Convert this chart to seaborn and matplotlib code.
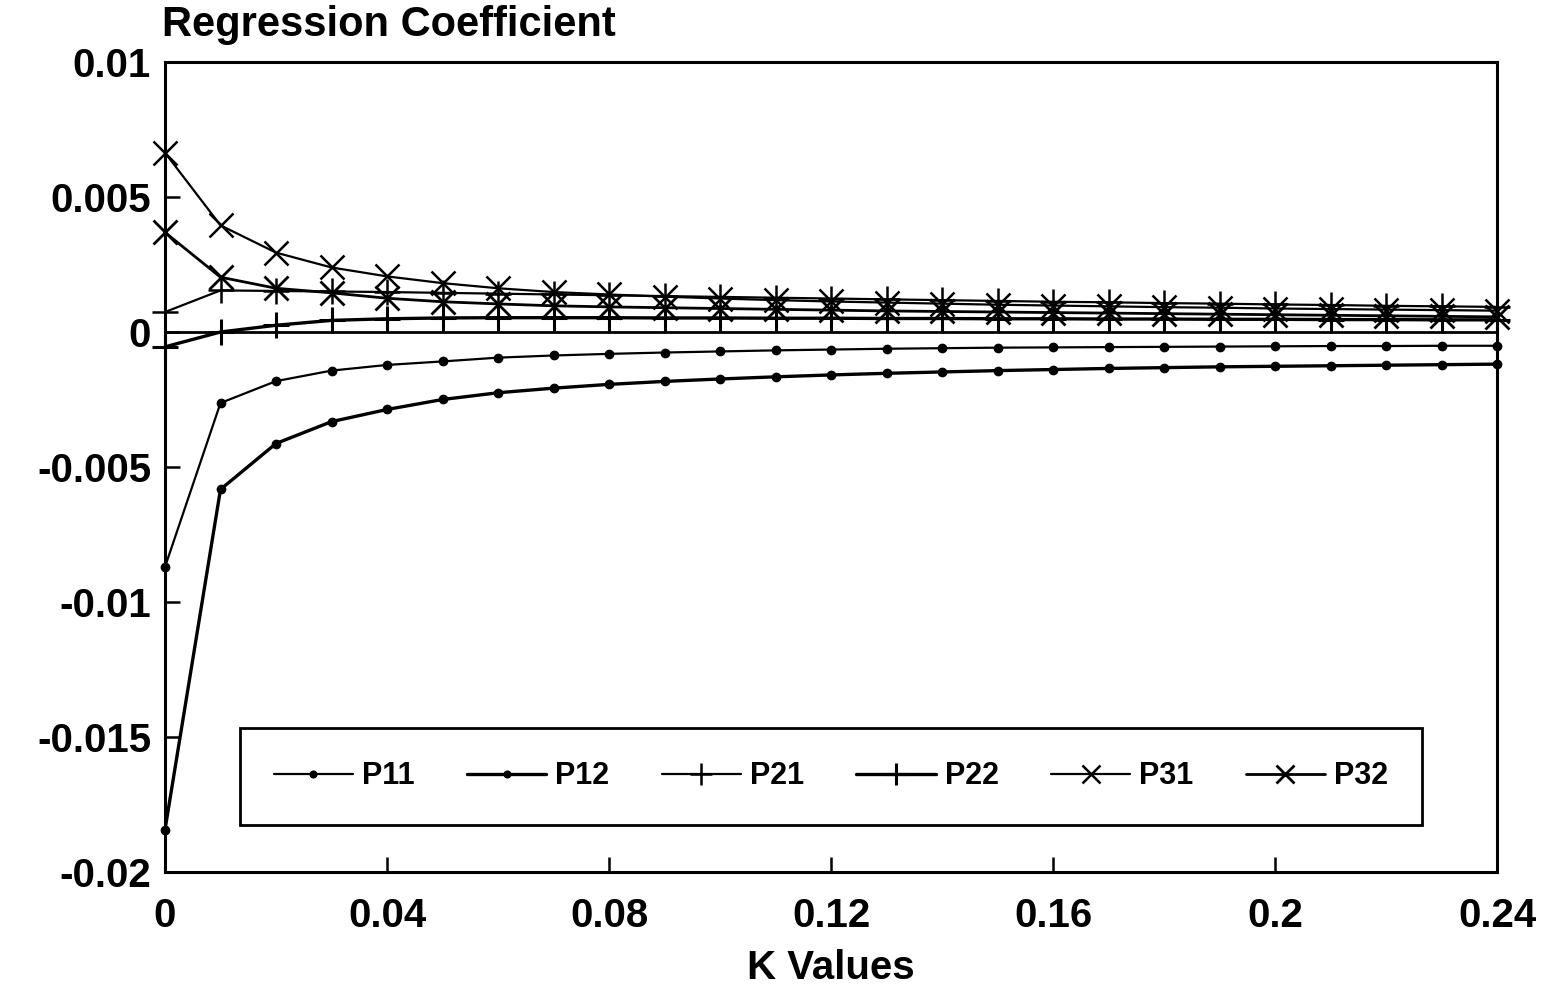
import matplotlib
matplotlib.use("Agg")
import matplotlib.pyplot as plt
import seaborn as sns
import pandas as pd

k_values = [0.00, 0.01, 0.02, 0.03, 0.04, 0.05, 0.06, 0.07, 0.08, 0.09, 0.10, 0.11, 0.12,
            0.13, 0.14, 0.15, 0.16, 0.17, 0.18, 0.19, 0.20, 0.21, 0.22, 0.23, 0.24]

p11 = [-0.0087, -0.00263, -0.00182, -0.00143, -0.00122, -0.00109, -0.00095, -0.00087, -0.00081,
       -0.00076, -0.00072, -0.00068, -0.00065, -0.00062, -0.00060, -0.00058, -0.00057, -0.00056,
       -0.00055, -0.00054, -0.00053, -0.00052, -0.00052, -0.00051, -0.00051]
p12 = [-0.01843, -0.00583, -0.00413, -0.00332, -0.00287, -0.00250, -0.00225, -0.00208, -0.00194,
       -0.00183, -0.00174, -0.00166, -0.00159, -0.00153, -0.00148, -0.00143, -0.00139, -0.00135,
       -0.00132, -0.00129, -0.00127, -0.00125, -0.00123, -0.00121, -0.00119]
p21 = [0.00074, 0.00154, 0.00152, 0.00150, 0.00148, 0.00145, 0.00142, 0.00139, 0.00136, 0.00133,
       0.00130, 0.00127, 0.00124, 0.00121, 0.00118, 0.00115, 0.00112, 0.00110, 0.00107, 0.00105,
       0.00102, 0.00100, 0.00097, 0.00095, 0.00093]
p22 = [-0.00055, 0.00000, 0.00025, 0.00043, 0.00049, 0.00052, 0.00053, 0.00053, 0.00053, 0.00052,
       0.00052, 0.00051, 0.00051, 0.00050, 0.00050, 0.00049, 0.00049, 0.00048, 0.00048, 0.00047,
       0.00047, 0.00046, 0.00046, 0.00045, 0.00045]
p31 = [0.00664, 0.00395, 0.00294, 0.00239, 0.00206, 0.00181, 0.00162, 0.00148, 0.00139, 0.00131,
       0.00124, 0.00118, 0.00113, 0.00109, 0.00105, 0.00101, 0.00098, 0.00095, 0.00092, 0.00090,
       0.00087, 0.00085, 0.00083, 0.00081, 0.00079]
p32 = [0.00369, 0.00203, 0.00162, 0.00145, 0.00125, 0.00112, 0.00104, 0.00097, 0.00093, 0.00090,
       0.00087, 0.00084, 0.00081, 0.00078, 0.00076, 0.00074, 0.00072, 0.00070, 0.00068, 0.00066,
       0.00064, 0.00062, 0.00060, 0.00058, 0.00056]

series_names = ["P11", "P12", "P21", "P22", "P31", "P32"]
series_values = [p11, p12, p21, p22, p31, p32]

x_ticks = [0, 0.04, 0.08, 0.12, 0.16, 0.20, 0.24]
x_tick_labels = ["0", "0.04", "0.08", "0.12", "0.16", "0.2", "0.24"]
y_ticks = [0.01, 0.005, 0, -0.005, -0.01, -0.015, -0.02]
y_tick_labels = ["0.01", "0.005", "0", "-0.005", "-0.01", "-0.015", "-0.02"]

sns.set_style("white")
plt.rcParams['font.family'] = ['Liberation Sans', 'DejaVu Sans']
plt.rcParams['font.weight'] = 'bold'
plt.rcParams['text.color'] = 'black'
plt.rcParams['xtick.color'] = 'black'
plt.rcParams['ytick.color'] = 'black'
plt.rcParams['axes.labelcolor'] = 'black'

styles = {
    "P11": dict(marker="o", markersize=6, linewidth=1.6),
    "P12": dict(marker="o", markersize=6, linewidth=2.4),
    "P21": dict(marker="+", markersize=19, linewidth=1.6, markeredgewidth=1.8),
    "P22": dict(marker="+", markersize=19, linewidth=2.4, markeredgewidth=2.2),
    "P31": dict(marker="x", markersize=17, linewidth=1.6, markeredgewidth=1.8),
    "P32": dict(marker="x", markersize=17, linewidth=2.0, markeredgewidth=2.0),
}

fig = plt.figure(figsize=(15.5, 10.01), dpi=100)
ax = fig.add_axes([165/1550, 1 - 872/1001, (1497-165)/1550, (872-62)/1001])

for name, vals in zip(series_names, series_values):
    df = pd.DataFrame({"k": k_values, "v": vals})
    st = styles[name]
    sns.lineplot(data=df, x="k", y="v", ax=ax, color="black", label=name,
                 marker=st["marker"], markersize=st["markersize"], linewidth=st["linewidth"],
                 markeredgewidth=st.get("markeredgewidth", 1.0), markeredgecolor="black",
                 markerfacecolor="black", estimator=None, clip_on=False)

ax.axhline(0, color="black", linewidth=2.0, zorder=1)

ax.set_xlim(0, 0.24)
ax.set_ylim(-0.02, 0.01)
ax.set_xticks(x_ticks)
ax.set_xticklabels(x_tick_labels, fontsize=29, fontweight='bold')
ax.set_yticks(y_ticks)
ax.set_yticklabels(y_tick_labels, fontsize=29, fontweight='bold')
ax.tick_params(axis='y', direction='in', length=11, width=1.8, pad=10, left=True, colors='black')
ax.tick_params(axis='x', direction='in', length=11, width=1.8, pad=18, bottom=True, colors='black')
for sp in ax.spines.values():
    sp.set_color("black")
    sp.set_linewidth(2.2)
    sp.set_visible(True)

ax.set_xlabel("K Values", fontsize=29, fontweight='bold', labelpad=10, color='black')
ax.set_ylabel("")
fig.text(162/1550, 1 - 5/1001, "Regression Coefficient", fontsize=30, fontweight='bold',
         ha='left', va='top', color='black')

leg = ax.legend(loc='lower left', bbox_to_anchor=((240-165)/1332, (872-825)/810, (1422-240)/1332, (825-727)/810),
                mode='expand', ncol=6, frameon=True, fancybox=False, fontsize=22, framealpha=1.0,
                handlelength=2.6, handletextpad=0.3, columnspacing=1.5, borderpad=1.1,
                markerscale=0.8, borderaxespad=0)
leg.get_frame().set_edgecolor("black")
leg.get_frame().set_linewidth(2.0)
for t in leg.get_texts():
    t.set_fontweight('bold')
    t.set_color('black')

fig.savefig("out.png", dpi=100, facecolor="white")
